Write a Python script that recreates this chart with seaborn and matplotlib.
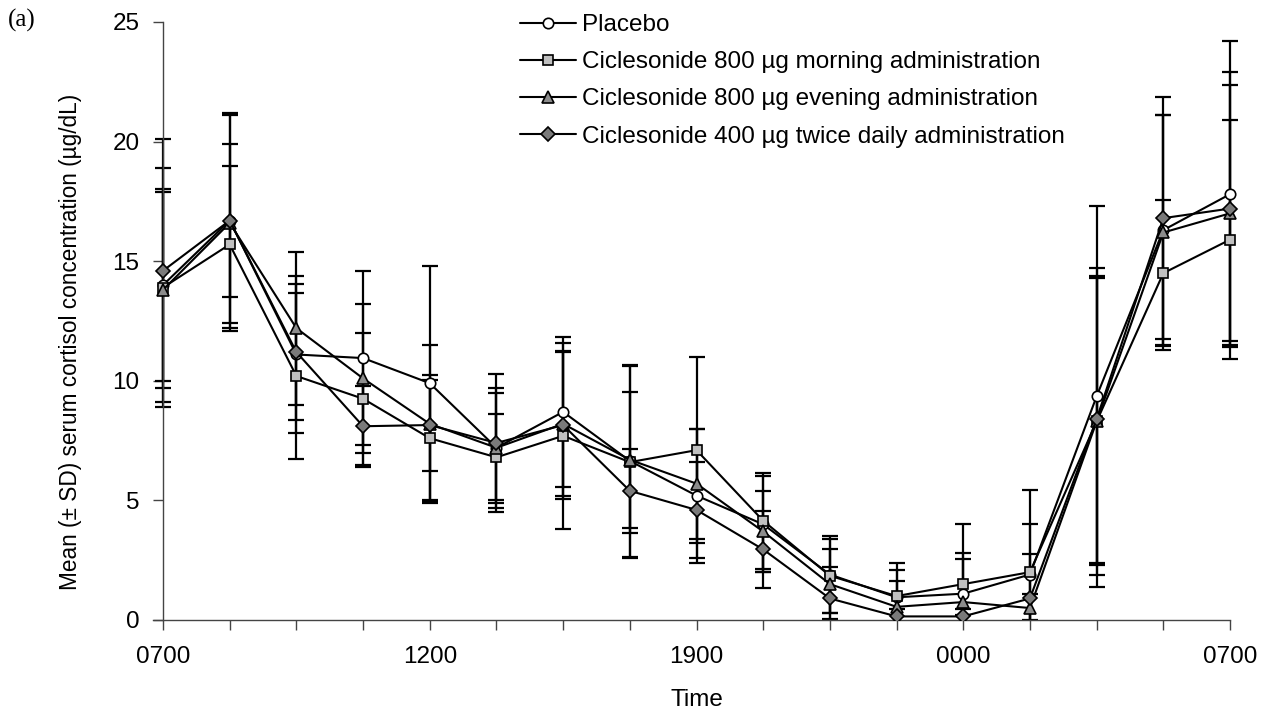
import numpy as np
import pandas as pd
import matplotlib
matplotlib.use('Agg')
import matplotlib.pyplot as plt
import seaborn as sns

# sampling points (0700 day 1 ... 0700 day 2), labels only on every 4th
time_idx = list(range(17))
tick_labels = ['0700', '', '', '', '1200', '', '', '', '1900', '', '', '', '0000', '', '', '', '0700']

groups = ['Placebo',
          'Ciclesonide 800 µg morning administration',
          'Ciclesonide 800 µg evening administration',
          'Ciclesonide 400 µg twice daily administration']

placebo_mean = [14.0, 16.7, 11.1, 10.95, 9.9, 7.2, 8.7, 6.65, 5.2, 4.0, 1.9, 0.95, 1.1, 1.9, 9.35, 16.3, 17.8]
placebo_sd = [4.0, 4.5, 3.3, 3.65, 4.9, 2.5, 3.15, 4.0, 2.8, 2.0, 1.6, 1.45, 2.9, 3.55, 7.95, 4.8, 6.4]

morning_mean = [13.9, 15.7, 10.2, 9.25, 7.6, 6.8, 7.7, 6.6, 7.1, 4.15, 1.85, 1.0, 1.5, 2.0, 8.3, 14.5, 15.9]
morning_sd = [5.0, 3.3, 3.45, 2.75, 2.65, 1.8, 3.9, 4.0, 3.9, 2.0, 1.55, 1.1, 1.3, 2.0, 6.0, 3.05, 5.0]

evening_mean = [13.8, 16.6, 12.2, 10.1, 8.2, 7.2, 8.2, 6.7, 5.7, 3.7, 1.5, 0.55, 0.75, 0.5, 8.3, 16.2, 17.0]
evening_sd = [4.1, 4.5, 3.2, 3.1, 3.3, 2.3, 3.0, 2.85, 2.3, 1.7, 1.45, 1.1, 1.8, 0.6, 6.4, 4.9, 5.35]

twice_mean = [14.6, 16.7, 11.2, 8.1, 8.15, 7.4, 8.15, 5.4, 4.6, 2.95, 0.9, 0.15, 0.15, 0.9, 8.4, 16.8, 17.2]
twice_sd = [5.5, 3.2, 2.85, 1.7, 1.9, 2.9, 3.1, 1.75, 2.0, 1.6, 1.3, 0.3, 0.3, 1.85, 6.0, 5.05, 5.7]

means = [placebo_mean, morning_mean, evening_mean, twice_mean]
sds = [placebo_sd, morning_sd, evening_sd, twice_sd]

frames = []
for g, m, s in zip(groups, means, sds):
    frames.append(pd.DataFrame({'idx': time_idx, 'mean': m, 'sd': s, 'group': g}))
df = pd.concat(frames, ignore_index=True)

sns.set_style('ticks')
plt.rcParams['font.family'] = ['Liberation Sans', 'DejaVu Sans']
plt.rcParams['text.color'] = 'black'
plt.rcParams['axes.labelcolor'] = 'black'
plt.rcParams['xtick.labelcolor'] = 'black'
plt.rcParams['ytick.labelcolor'] = 'black'

marker_list = ['o', 's', '^', 'D']
face_list = ['white', '#c0c0c0', '#8c8c8c', '#7a7a7a']
msize = [7.5, 7.5, 8.5, 7]

fs = 17.5

fig = plt.figure(figsize=(12.66, 7.15), dpi=100)
ax = fig.add_axes([153/1266, 1-620/715, (1240-153)/1266, (620-22)/715])

sns.despine(ax=ax)
ax.spines['left'].set_position(('data', 0))
ax.spines['bottom'].set_bounds(-0.15, 16)
for sp in ['left', 'bottom']:
    ax.spines[sp].set_color('#444444')
    ax.spines[sp].set_linewidth(1)

for i, g in enumerate(groups):
    d = df[df['group'] == g]
    ax.errorbar(d['idx'], d['mean'], yerr=d['sd'], fmt='none', ecolor='black',
                elinewidth=1.6, capsize=6, capthick=1.6, zorder=2)

for i, g in enumerate(groups):
    d = df[df['group'] == g]
    sns.lineplot(x=d['idx'], y=d['mean'], ax=ax, color='black', linewidth=1.5,
                 marker=marker_list[i], markersize=msize[i], markerfacecolor=face_list[i],
                 markeredgecolor='black', markeredgewidth=1.2, label=g,
                 errorbar=None, sort=False, zorder=3)

ax.set_xlim(-0.15, 16.15)
ax.set_ylim(0, 25)
ax.set_xticks(time_idx)
ax.set_xticklabels(tick_labels)
ax.set_yticks([0, 5, 10, 15, 20, 25])
ax.set_yticklabels(['0', '5', '10', '15', '20', '25'])
ax.tick_params(axis='both', direction='out', length=7, width=1, color='#444444', labelsize=fs)
ax.tick_params(axis='x', pad=12)
ax.tick_params(axis='y', pad=10)

ax.set_xlabel('Time', fontsize=fs, labelpad=15)
ax.set_ylabel('Mean (± SD) serum cortisol concentration (µg/dL)', fontsize=16.3)
ax.yaxis.set_label_coords((82 - 153)/1087, 0.465)

bp = 0.3
ax.legend(loc='upper left', bbox_to_anchor=((520 - bp*fs*100/72)/1266, 1 - 7/715),
          bbox_transform=fig.transFigure, borderaxespad=0,
          frameon=False, fontsize=fs, handlelength=2.3, handletextpad=0.25,
          labelspacing=0.62, borderpad=bp, numpoints=1)

fig.text(8/1266, 1-20/715, '(a)', fontsize=18, family=['Liberation Serif', 'DejaVu Serif'],
         va='center', ha='left')

fig.savefig('out.png', dpi=100)
